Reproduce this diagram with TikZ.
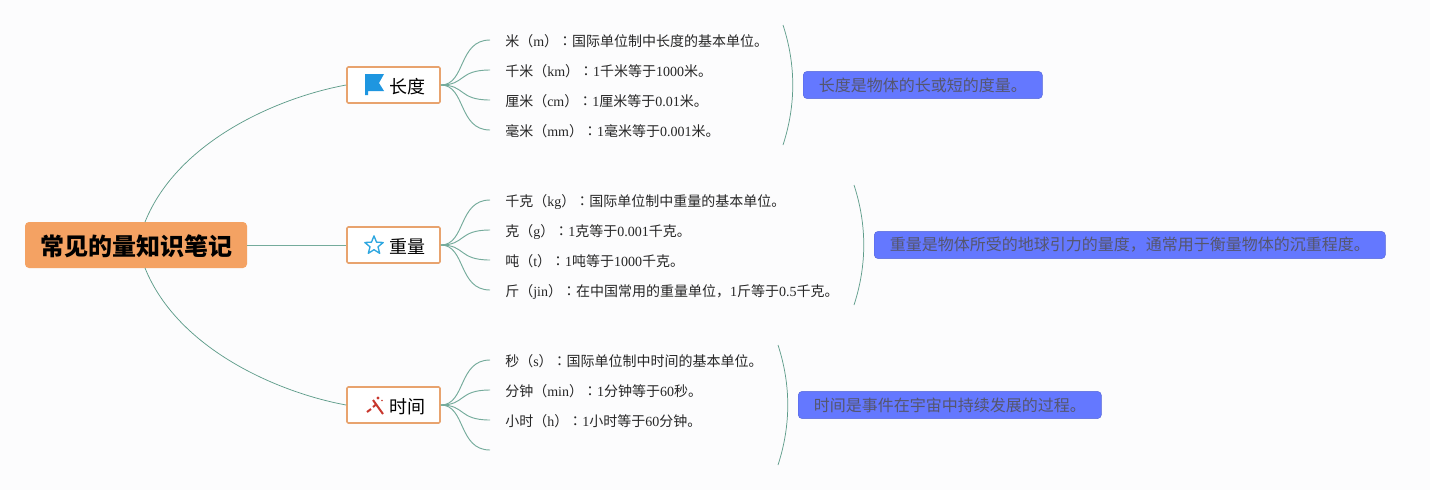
\documentclass[tikz,border=0pt]{standalone}
\usepackage{fontspec}
\setmainfont{Liberation Serif}
\newfontfamily\cjk{Noto Sans CJK SC}
\newfontfamily\cjkjp{Noto Sans CJK JP}
\newcommand{\Cj}[1]{{\cjk #1}}
\newcommand{\Cn}{{\cjkjp ：}}
\usetikzlibrary{shapes.geometric,calc}
\definecolor{bgc}{HTML}{FCFCFD}
\definecolor{rootc}{HTML}{F4A263}
\definecolor{brc}{HTML}{E8A36E}
\definecolor{linec}{HTML}{5E9C8A}
\definecolor{linel}{HTML}{74AB9B}
\definecolor{sumc}{HTML}{6478FF}
\definecolor{sumt}{HTML}{55566E}
\definecolor{flagc}{HTML}{1E96E0}
\definecolor{starc}{HTML}{2EA7E0}
\definecolor{wandc}{HTML}{C8372D}
\tikzset{
  rootbox/.style={draw=none,fill=rootc,rounded corners=3pt,minimum width=166.5pt,minimum height=34.5pt,inner sep=0pt,
    text height=16pt,text depth=0pt,font=\cjk\bfseries\fontsize{18pt}{22pt}\selectfont,text=black},
  brbox/.style={draw=brc,line width=1.2pt,fill=white,rounded corners=1pt,minimum width=69.75pt,minimum height=27pt,inner sep=0pt,
    text width=47.25pt,align=right,text height=12pt,text depth=0pt,font=\cjk\fontsize{13.5pt}{16pt}\selectfont,text=black},
  leaf/.style={anchor=west,inner xsep=11.25pt,inner ysep=0pt,text height=10pt,text depth=0pt,font=\fontsize{10.5pt}{13pt}\selectfont,text=black!85},
  sumbox/.style={anchor=west,fill=sumc,rounded corners=3pt,inner xsep=11.7pt,inner ysep=0pt,minimum height=20.5pt,
    draw=sumc!85!black,line width=0.3pt,font=\cjk\fontsize{12pt}{14pt}\selectfont,text=sumt},
  conn/.style={draw=linec,line width=0.55pt},
  connl/.style={draw=linel,line width=0.7pt},
}
\begin{document}
\begin{tikzpicture}[x=0.75pt,y=-0.75pt]
\useasboundingbox (0,0) rectangle (1430,490);
\fill[bgc] (0,0) rectangle (1430,490);
% main nodes
\node[rootbox] (root) at (136,245) {常见的量知识笔记};
\node[brbox] (b1) at (393.5,85) {长度};
\node[brbox] (b2) at (393.5,245) {重量};
\node[brbox] (b3) at (393.5,405) {时间};
% leaves
\node[leaf] (a1) at (490,40) {\Cj{米（}m\Cj{）}\Cn\Cj{国际单位制中长度的基本单位。}};
\node[leaf] (a2) at (490,70) {\Cj{千米（}km\Cj{）}\Cn 1\Cj{千米等于}1000\Cj{米。}};
\node[leaf] (a3) at (490,100) {\Cj{厘米（}cm\Cj{）}\Cn 1\Cj{厘米等于}0.01\Cj{米。}};
\node[leaf] (a4) at (490,130) {\Cj{毫米（}mm\Cj{）}\Cn 1\Cj{毫米等于}0.001\Cj{米。}};
\node[leaf] (c1) at (490,200) {\Cj{千克（}kg\Cj{）}\Cn\Cj{国际单位制中重量的基本单位。}};
\node[leaf] (c2) at (490,230) {\Cj{克（}g\Cj{）}\Cn 1\Cj{克等于}0.001\Cj{千克。}};
\node[leaf] (c3) at (490,260) {\Cj{吨（}t\Cj{）}\Cn 1\Cj{吨等于}1000\Cj{千克。}};
\node[leaf] (c4) at (490,290) {\Cj{斤（}jin\Cj{）}\Cn\Cj{在中国常用的重量单位，}1\Cj{斤等于}0.5\Cj{千克。}};
\node[leaf] (d1) at (490,360) {\Cj{秒（}s\Cj{）}\Cn\Cj{国际单位制中时间的基本单位。}};
\node[leaf] (d2) at (490,390) {\Cj{分钟（}min\Cj{）}\Cn 1\Cj{分钟等于}60\Cj{秒。}};
\node[leaf] (d3) at (490,420) {\Cj{小时（}h\Cj{）}\Cn 1\Cj{小时等于}60\Cj{分钟。}};
\coordinate (d4) at (490,450);
% summaries
\node[sumbox] (s1) at (803,85) {长度是物体的长或短的度量。};
\node[sumbox] (s2) at (874,245) {重量是物体所受的地球引力的量度，通常用于衡量物体的沉重程度。};
\node[sumbox] (s3) at (798,405) {时间是事件在宇宙中持续发展的过程。};
% brace ends
\coordinate (t1) at (783,25); \coordinate (e1) at (783,145);
\coordinate (t2) at (854,185); \coordinate (e2) at (854,305);
\coordinate (t3) at (778,345); \coordinate (e3) at (778,465);
% root connectors
\coordinate (rt) at (145,222); \coordinate (rb) at (145,268);
\draw[conn] (rt) .. controls (178,140) and (280,97) .. (b1.west);
\draw[connl] (root.east) -- (b2.west);
\draw[conn] (rb) .. controls (178,350) and (280,393) .. (b3.west);
% leaf connectors
\foreach \b/\a in {b1/a1,b1/a2,b1/a3,b1/a4,b2/c1,b2/c2,b2/c3,b2/c4,b3/d1,b3/d2,b3/d3} {
  \draw[connl] (\b.east) .. controls ($(\b.east)+(25,0)$) and ($(\a.west)+(-32,0)$) .. (\a.west);
}
\draw[connl] (b3.east) .. controls ($(b3.east)+(25,0)$) and ($(d4)+(-32,0)$) .. (d4);
% braces
\draw[conn] (t1) .. controls (796,65) and (796,105) .. (e1);
\draw[conn] (t2) .. controls (867,225) and (867,265) .. (e2);
\draw[conn] (t3) .. controls (791,385) and (791,425) .. (e3);
% icons
\fill[flagc] (365,74) -- (384,74) -- (379,83) -- (384,91) -- (368,91) -- (368,95) -- (365,95) -- cycle;
\node[star,star points=5,star point ratio=2.3,draw=starc,line width=1pt,fill=white,minimum size=14.5pt,inner sep=0pt,line join=round] (ic2) at (374,245.5) {};
\draw[wandc,line width=1.5pt] (373,400) -- (383,414);
\draw[wandc,line width=1.5pt] (367,412) -- (371,409);
\draw[wandc,line width=1.5pt] (373,407) -- (376,404.5);
\fill[wandc] (378,398) circle (1.6);
\fill[wandc] (382,400.5) circle (0.9);
\end{tikzpicture}
\end{document}
